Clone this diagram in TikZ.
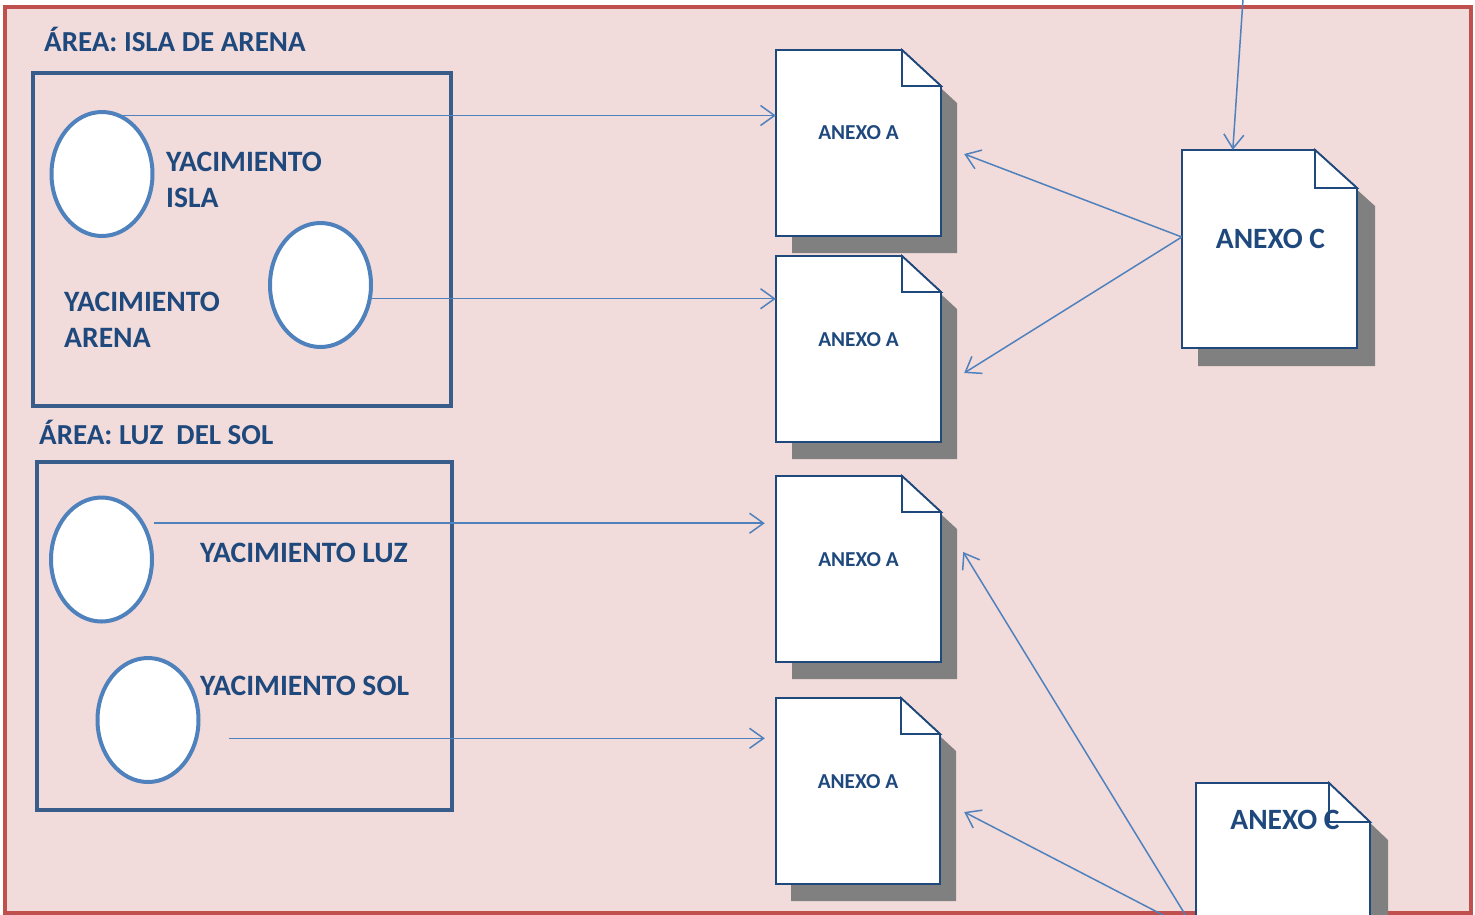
\documentclass[tikz,border=0pt]{standalone}
\usepackage{fontspec}
\setmainfont{Carlito}
\usepackage{xcolor}
\usetikzlibrary{shapes.geometric,arrows.meta}
\definecolor{fondo}{HTML}{F2DCDB}
\definecolor{marco}{HTML}{C0504D}
\definecolor{cajaazul}{HTML}{385D8A}
\definecolor{elipseazul}{HTML}{4F81BD}
\definecolor{textoazul}{HTML}{1F497D}
\definecolor{sombra}{HTML}{808080}

\begin{document}
\begin{tikzpicture}[x=1pt, y=-1pt,
		>={Straight Barb[length=14pt,width=20pt]},
		caja/.style={draw=cajaazul, line width=4.5pt},
		circulo/.style={ellipse, draw=elipseazul, fill=white, line width=4pt, minimum width=101pt, minimum height=124pt, inner sep=0pt},
		hoja/.style={rectangle, inner sep=0pt},
		borde/.style={draw=textoazul, fill=white, line width=1.8pt, line join=miter},
		flecha/.style={draw=elipseazul, line width=1.5pt, ->},
		titulo/.style={text=textoazul, font=\fontsize{29}{34}\selectfont\bfseries, anchor=base west, inner sep=0pt},
		yac/.style={text=textoazul, font=\fontsize{29.6}{36}\selectfont\bfseries, anchor=base west, inner sep=0pt, align=left},
		anexoA/.style={text=textoazul, font=\fontsize{21.3}{24}\selectfont\bfseries, anchor=base, inner sep=0pt},
		anexoC/.style={text=textoazul, font=\fontsize{29.5}{34}\selectfont\bfseries, anchor=base, inner sep=0pt}]
	
	\useasboundingbox (0,0) rectangle (1475,914);
	\clip (0,0) rectangle (1475,914);
	
	\fill[fondo] (5,7) rectangle (1471,913);
	\draw[marco, line width=4.5pt] (5,7) rectangle (1471,913);
	
	% areas
	\node[titulo] (t1) at (44,51) {ÁREA: ISLA DE ARENA};
	\draw[caja] (33,73) rectangle (451,406);
	\node[titulo] (t2) at (39,444) {ÁREA: LUZ\ \ DEL SOL};
	\draw[caja] (37,462) rectangle (452,810);
	
	\node[circulo] (e1) at (102,174) {};
	\node[circulo] (e2) at (320.5,285) {};
	\node[circulo] (e3) at (101.5,559.5) {};
	\node[circulo] (e4) at (148,720) {};
	
	\node[yac] (y1) at (166,207) {YACIMIENTO\\ISLA};
	\node[yac] (y2) at (64,347) {YACIMIENTO\\ARENA};
	\node[yac] (y3) at (200,562) {YACIMIENTO LUZ};
	\node[yac] (y4) at (200,695) {YACIMIENTO SOL};
	
	% anexos A
	\fill[sombra] (792,67) -- (918,67) -- (957,103) -- (957,253) -- (792,253) -- cycle;
	\node[hoja, minimum width=165pt, minimum height=186pt] (a1) at (858.5,143) {};
	\filldraw[borde] (776,50) -- (902,50) -- (941,86) -- (941,236) -- (776,236) -- cycle;
	\filldraw[borde] (902,50) -- (902,86) -- (941,86) -- cycle;
	\node[anexoA] (ta1) at (858.5,139) {ANEXO A};
	
	\fill[sombra] (792,273) -- (918,273) -- (957,309) -- (957,459) -- (792,459) -- cycle;
	\node[hoja, minimum width=165pt, minimum height=186pt] (a2) at (858.5,349) {};
	\filldraw[borde] (776,256) -- (902,256) -- (941,292) -- (941,442) -- (776,442) -- cycle;
	\filldraw[borde] (902,256) -- (902,292) -- (941,292) -- cycle;
	\node[anexoA] (ta2) at (858.5,346) {ANEXO A};
	
	\fill[sombra] (792,493) -- (918,493) -- (957,529) -- (957,679) -- (792,679) -- cycle;
	\node[hoja, minimum width=165pt, minimum height=186pt] (a3) at (858.5,569) {};
	\filldraw[borde] (776,476) -- (902,476) -- (941,512) -- (941,662) -- (776,662) -- cycle;
	\filldraw[borde] (902,476) -- (902,512) -- (941,512) -- cycle;
	\node[anexoA] (ta3) at (858.5,566) {ANEXO A};
	
	\fill[sombra] (791,715) -- (917,715) -- (956,751) -- (956,901) -- (791,901) -- cycle;
	\node[hoja, minimum width=164pt, minimum height=186pt] (a4) at (858,791) {};
	\filldraw[borde] (776,698) -- (901,698) -- (940,734) -- (940,884) -- (776,884) -- cycle;
	\filldraw[borde] (901,698) -- (901,734) -- (940,734) -- cycle;
	\node[anexoA] (ta4) at (858,788) {ANEXO A};
	
	% anexos C
	\fill[sombra] (1198,168) -- (1333,168) -- (1375,206) -- (1375,366) -- (1198,366) -- cycle;
	\node[hoja, minimum width=175pt, minimum height=198pt] (c1) at (1269.5,249) {};
	\filldraw[borde] (1182,150) -- (1315,150) -- (1357,188) -- (1357,348) -- (1182,348) -- cycle;
	\filldraw[borde] (1315,150) -- (1315,188) -- (1357,188) -- cycle;
	\node[anexoC] (tc1) at (1270.5,248) {ANEXO C};
	
	\fill[sombra] (1213,801) -- (1347,801) -- (1388,840) -- (1388,999) -- (1213,999) -- cycle;
	\node[hoja, minimum width=174pt, minimum height=198pt] (c2) at (1283,882) {};
	\filldraw[borde] (1196,783) -- (1329,783) -- (1370,822) -- (1370,981) -- (1196,981) -- cycle;
	\filldraw[borde] (1329,783) -- (1329,822) -- (1370,822) -- cycle;
	\node[anexoC] (tc2) at (1285,829) {ANEXO C};
	
	\coordinate (arriba) at (1245,-30);
	
	% flechas
	\draw[flecha] (e1.70) -- (a1.west |- e1.70);
	\draw[flecha] (e2.-15) -- (a2.west |- e2.-15);
	\draw[flecha, shorten <=9pt, shorten >=11pt] (e3.40) -- (a3.west |- e3.40);
	\draw[flecha, shorten <=31pt, shorten >=11pt] (e4.-20) -- (a4.west |- e4.-20);
	\draw[flecha] ([yshift=12pt]c1.west) -- ([xshift=23pt,yshift=-11pt]a1.east);
	\draw[flecha] ([yshift=12pt]c1.west) -- ([xshift=23pt,yshift=-24pt]a2.east);
	\draw[flecha] (arriba) -- ([xshift=51pt]c1.north west);
	\draw[flecha] ([yshift=-50pt]c2.west) -- ([xshift=22pt,yshift=17pt]a3.east);
	\draw[flecha] ([yshift=-50pt]c2.west) -- ([xshift=24pt,yshift=-21pt]a4.east);
	
\end{tikzpicture}
\end{document}
